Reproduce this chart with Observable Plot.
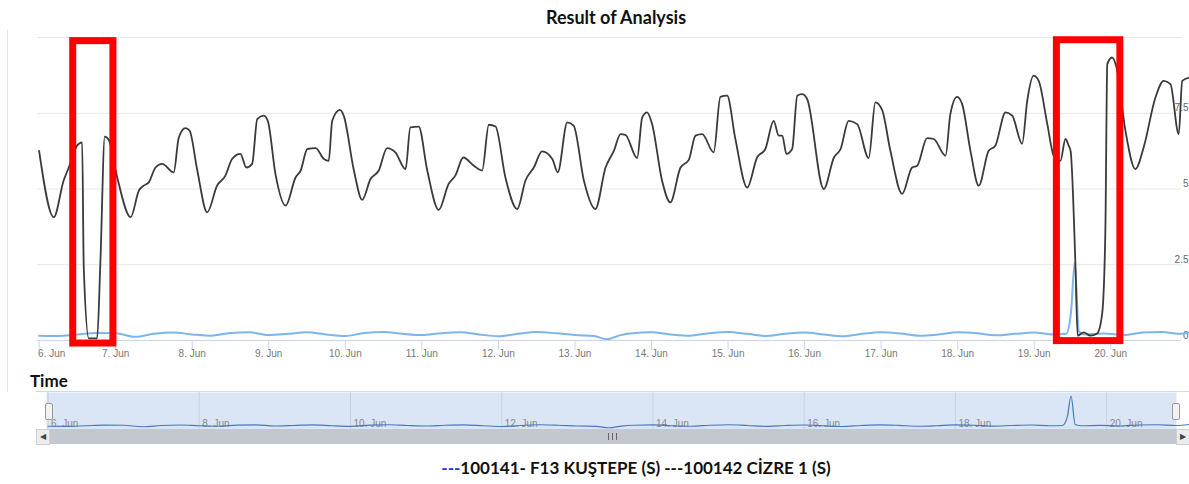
<!DOCTYPE html>
<html><head><meta charset="utf-8">
<script src="https://cdn.jsdelivr.net/npm/d3@7"></script>
<script src="https://cdn.jsdelivr.net/npm/@observablehq/plot@0.6"></script>
<style>
body{margin:0;background:#fff;width:1189px;height:484px;position:relative;overflow:hidden;font-family:"Liberation Sans",Arial,sans-serif}
.abs{position:absolute}
#title{top:6px;left:616px;transform:translateX(-50%);font:bold 18px Lato,"Open Sans",sans-serif;color:#111;white-space:nowrap}
#time{top:370px;left:30px;font:bold 17px Lato,"Open Sans",sans-serif;color:#111}
#legend{top:457px;left:636px;transform:translateX(-50%);font:bold 17px Lato,"Open Sans",sans-serif;color:#111;white-space:nowrap}
#leftline{left:7px;top:30px;width:1px;height:362px;background:#e6e6e6}
#navtop{left:36px;top:391px;width:1153px;height:1px;background:#d6d6d6}
#sb{left:36px;top:429px;width:1153px;height:15px;background:#c3c8ce}
.btn{top:429px;width:12px;height:14px;background:#ececec;border:1px solid #cfcfcf;font-size:8px;line-height:14px;text-align:center;color:#444}
#grip{left:608px;top:433px;width:7px;height:7px;border-left:1px solid #666;border-right:1px solid #666}
#grip::after{content:"";position:absolute;left:3px;top:0;width:1px;height:7px;background:#666}
.handle{top:403px;width:6px;height:15px;background:#f2f2f2;border:1px solid #999;border-radius:2px}
svg{position:absolute;left:0}
</style></head>
<body>
<div id="leftline" class="abs"></div>
<div id="main"></div>
<div id="nav"></div>
<div id="navtop" class="abs"></div>
<div id="sb" class="abs"></div>
<div class="abs btn" style="left:36px">&#9664;</div>
<div class="abs btn" style="left:1176px">&#9654;</div>
<div id="grip" class="abs"></div>
<div class="abs handle" style="left:45px"></div>
<div class="abs handle" style="left:1172px"></div>
<div id="title" class="abs"></div>
<div id="time" class="abs"></div>
<div id="legend" class="abs"></div>
<script>
// ---- data ----
const chartTitle = "Result of Analysis";
const timeLabel = "Time";
const seriesNames = ["100141- F13 KUŞTEPE (S)", "100142 CİZRE 1 (S)"];
const startDay = [2019, 5, 6]; // 6 Jun

// hours since 6 Jun 00:00 and values – dark series
const blackHours = [0,4.6,7.7,9.3,11.9,13.5,14.0,15.6,18.2,19.2,
20.6,21.9,24.5,28.7,31.3,32.8,34.4,36.5,38.6,42.2,
43.8,45.9,47.2,49.6,52.7,55.8,58.4,60.5,63.1,65.0,
66.8,68.4,70.4,71.7,74.1,77.3,80.4,82.0,84.1,86.7,
89.3,90.8,91.9,94.3,95.5,98.7,101.3,103.9,106.5,109.1,
111.7,114.9,116.4,119.0,121.7,125.3,128.4,130.5,133.0,136.3,
138.9,141.0,143.1,146.2,149.9,152.5,155.1,157.7,160.9,162.6,
165.6,167.6,170.8,174.4,177.6,180.2,182.3,183.8,187.5,189.1,
190.6,192.2,195.3,197.9,201.1,203.7,205.8,207.9,211.5,213.6,
215.7,218.3,222.0,225.1,227.7,230.3,231.9,233.0,234.3,236.1,
237.7,239.2,240.8,246.0,249.2,251.3,253.8,256.5,260.1,262.2,
264.3,266.9,270.6,273.7,275.3,278.4,280.5,284.2,285.7,287.8,
289.4,292.0,294.6,297.7,299.8,303.0,305.1,308.2,309.8,311.8,
313.4,316.1,318.1,320.2,321.8,322.8,323.4,324.9,325.6,327.5,
329.6,331.7,333.3,334.3,334.9,336.4,337.8,340.6,343.7,346.3,
350.0,352.6,354.7,357.3,358.4,360.7];
const blackValues = [6.26,4.07,5.28,5.71,6.43,6.54,2.42,0.07,0.07,2.54,
6.73,6.61,5.38,4.07,4.95,5.11,5.22,5.71,5.83,5.55,
6.70,7.01,6.92,5.61,4.23,5.11,5.44,5.99,6.16,5.71,
5.83,7.31,7.42,7.25,5.50,4.45,5.38,5.61,6.32,6.35,
5.99,5.93,7.25,7.61,7.42,5.61,4.64,5.33,5.61,6.35,
6.21,5.66,7.03,7.06,5.61,4.31,5.17,5.44,6.04,5.77,
5.61,7.12,7.06,5.38,4.34,5.28,5.71,6.24,5.99,5.55,
7.20,7.09,5.28,4.34,5.71,6.26,6.81,6.79,6.02,7.36,
7.53,7.14,5.28,4.56,5.71,5.96,6.76,6.81,6.21,8.04,
8.08,6.65,5.05,6.04,6.32,7.25,6.76,6.76,6.16,6.32,
8.08,8.13,7.97,5.00,6.04,6.32,7.25,7.14,6.02,7.86,
7.61,6.26,4.84,5.71,5.77,6.68,6.65,6.10,7.47,8.04,
7.80,6.26,5.11,6.26,6.43,7.53,7.42,6.49,7.91,8.74,
8.57,7.14,6.10,5.93,6.65,6.43,6.26,2.54,0.16,0.27,
0.16,0.23,0.89,3.63,9.12,9.34,9.01,6.92,5.66,6.37,
8.02,8.57,8.46,6.81,8.57,8.68];

// hours since 6 Jun 00:00 and values – light blue series
const blueHours = [0,6,12,18,24,30,36,42,48,54,60,66,72,78,84,90,96,102,108,114,120,126,132,138,144,150,156,162,168,174,178,182,186,192,198,204,210,216,222,228,234,240,246,252,258,264,270,276,282,288,294,300,306,312,318,322,323.5,324.7,326,328,334,340,346,352,358,362];
const blueValues = [0.16,0.15,0.2,0.25,0.24,0.12,0.22,0.26,0.2,0.16,0.25,0.27,0.18,0.22,0.27,0.2,0.15,0.25,0.28,0.22,0.18,0.24,0.27,0.2,0.14,0.22,0.28,0.24,0.18,0.15,0.04,0.17,0.24,0.27,0.2,0.16,0.24,0.28,0.22,0.15,0.22,0.26,0.2,0.14,0.22,0.27,0.23,0.16,0.2,0.27,0.24,0.17,0.22,0.26,0.2,0.22,0.9,2.57,0.3,0.2,0.23,0.18,0.26,0.28,0.22,0.3];

// highlighted intervals (hours since 6 Jun) and value span
const boxStartHours = [10.7, 319.1];
const boxEndHours = [23.3, 339.0];
const boxLow = [-0.1, -0.02];
const boxHigh = [9.88, 9.91];

const mainTickDays = [6,7,8,9,10,11,12,13,14,15,16,17,18,19,20];
const navTickDays = [6,8,10,12,14,16,18,20];
const gridValues = [0, 2.5, 5, 7.5, 10];
const yLabelValues = [0, 2.5, 5, 7.5];

// ---- build ----
const T0 = Date.UTC(startDay[0], startDay[1], startDay[2]);
const HR = 3600e3;
const toDate = h => new Date(T0 + h * HR);
const black = blackHours.map((h, i) => ({t: toDate(h), v: blackValues[i]}));
const blue = blueHours.map((h, i) => ({t: toDate(h), v: blueValues[i]}));
const boxes = boxStartHours.map((h, i) => ({s: toDate(h), e: toDate(boxEndHours[i]), lo: boxLow[i], hi: boxHigh[i]}));
const dayDate = d => new Date(Date.UTC(startDay[0], startDay[1], d));
const mainTicks = mainTickDays.map(dayDate);
const navTicks = navTickDays.map(dayDate);
const fmt = d => `${d.getUTCDate()}. Jun`;
const xDomain = [toDate(-0.5), toDate(358.17)];
const firstTick = mainTicks[0];

const main = Plot.plot({
  width: 1189, height: 365,
  marginLeft: 37, marginRight: 8, marginTop: 37, marginBottom: 25,
  x: {type: "utc", domain: xDomain},
  y: {domain: [0, 10]},
  style: {fontFamily: '"Liberation Sans", Arial, sans-serif', fontSize: "10px", background: "transparent", overflow: "visible"},
  marks: [
    Plot.ruleY(gridValues, {stroke: "#e6e6e6", strokeWidth: 1}),
    Plot.ruleY([0], {stroke: "#ccd6eb"}),
    Plot.axisX({ticks: mainTicks, tickFormat: d => (+d === +firstTick ? "" : fmt(d)), tickSize: 10, tickPadding: -1, stroke: "#ccd6eb", fill: "#777", label: null, fontSize: 10}),
    Plot.text([firstTick], {x: d => d, y: () => 0, text: fmt, textAnchor: "start", lineAnchor: "top", dy: 9, dx: -1, fill: "#777", fontSize: 10}),
    Plot.axisY({anchor: "right", ticks: yLabelValues, tickFormat: d => String(d), tickSize: 0, tickPadding: 0, textAnchor: "end", dx: 7, dy: -5, fill: "#666", label: null, fontSize: 10}),
    Plot.line(blue, {x: "t", y: "v", stroke: "#7cb5ec", strokeWidth: 2, curve: "monotone-x"}),
    Plot.line(black, {x: "t", y: "v", stroke: "#3a3a3a", strokeWidth: 1.8, curve: "monotone-x"}),
    Plot.rect(boxes, {x1: "s", x2: "e", y1: "lo", y2: "hi", fill: "none", stroke: "#ff0000", strokeWidth: 7})
  ]
});
main.style.top = "0px";
document.getElementById("main").appendChild(main);

const nav = Plot.plot({
  width: 1189, height: 38,
  marginLeft: 46, marginRight: 13, marginTop: 1, marginBottom: 0,
  x: {type: "utc", domain: xDomain, axis: null},
  y: {domain: [-0.1, 2.85], axis: null},
  style: {fontFamily: '"Liberation Sans", Arial, sans-serif', fontSize: "10px", background: "transparent"},
  marks: [
    Plot.frame({fill: "#dae5f5", stroke: "none"}),
    Plot.ruleX(navTicks, {stroke: "#c8d2e2"}),
    Plot.text(navTicks, {x: d => d, text: fmt, frameAnchor: "bottom", textAnchor: "start", dx: 3, dy: -3, fill: "#8a8a8a", fontSize: 10}),
    Plot.line(blue, {x: "t", y: "v", stroke: "#4a78bf", strokeWidth: 1.2, curve: "monotone-x"})
  ]
});
nav.style.top = "391px";
document.getElementById("nav").appendChild(nav);

document.getElementById("title").textContent = chartTitle;
document.getElementById("time").textContent = timeLabel;
const lg = document.getElementById("legend");
const s1 = document.createElement("span"); s1.style.color = "#2b2bff"; s1.textContent = "---";
lg.appendChild(s1);
lg.appendChild(document.createTextNode(seriesNames[0] + " ---" + seriesNames[1]));
</script>
</body></html>
